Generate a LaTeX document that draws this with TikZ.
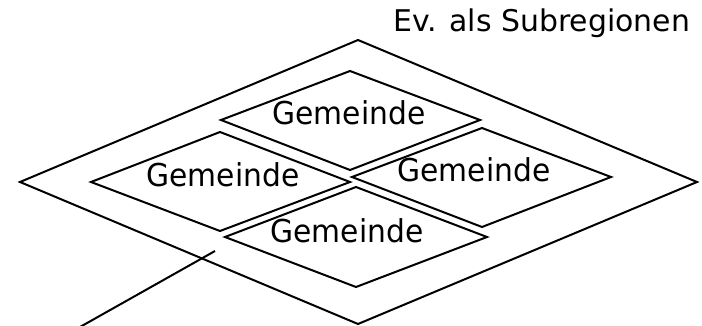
\documentclass[tikz,border=0pt]{standalone}
\usepackage{fontspec}
\usepackage{graphicx}
\setmainfont{DejaVu Sans}
\begin{document}
\begin{tikzpicture}[x=1pt,y=-1pt,
  region/.style={line width=2pt, line join=miter},
  lbl/.style={inner sep=0pt, anchor=base, font=\fontsize{31.5}{34}\selectfont},
  ttl/.style={inner sep=0pt, anchor=base west, font=\fontsize{29.9}{32}\selectfont},
  lead/.style={line width=2pt}]
\useasboundingbox (0,0) rectangle (702,326);
% outer region
\draw[region] (358,40) -- (697,182) -- (358,324) -- (20,182) -- cycle;
% Gemeinde diamonds
\draw[region] (350,71) -- (480,120) -- (350,170) -- (221,120) -- cycle;
\draw[region] (220,132) -- (350,182) -- (220,231) -- (91,182) -- cycle;
\draw[region] (482,128) -- (611,177) -- (482,227) -- (352,177) -- cycle;
\draw[region] (356,187) -- (487,237) -- (356,287) -- (225,237) -- cycle;
% labels
\node[ttl] (title) at (393,32) {Ev. als Subregionen};
\node[lbl] (g1) at (349,125) {\scalebox{0.944}[1]{Gemeinde}};
\node[lbl] (g2) at (223,187) {\scalebox{0.944}[1]{Gemeinde}};
\node[lbl] (g3) at (474,182) {\scalebox{0.944}[1]{Gemeinde}};
\node[lbl] (g4) at (347,243) {\scalebox{0.944}[1]{Gemeinde}};
% leader line
\coordinate (p) at (215,251);
\coordinate (q) at (80,327);
\draw[lead] (p) -- (q);
\end{tikzpicture}
\end{document}
